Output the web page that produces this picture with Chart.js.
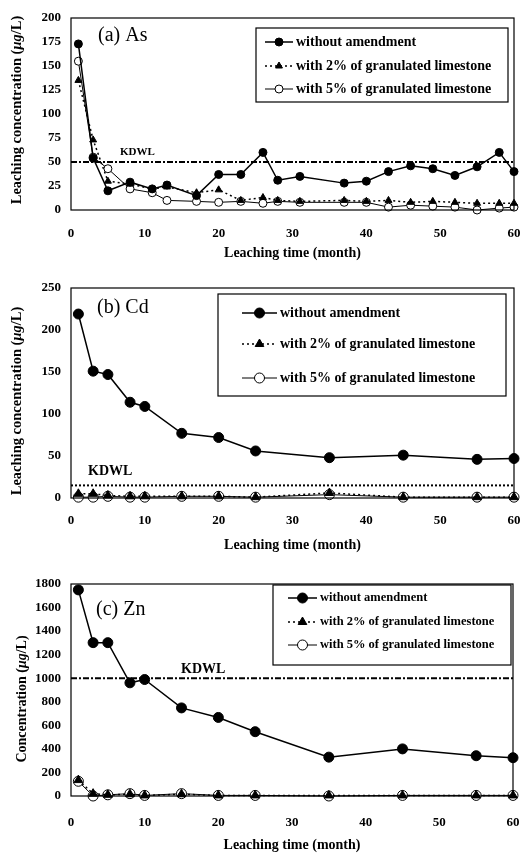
<!DOCTYPE html>
<html>
<head>
<meta charset="utf-8">
<script src="https://cdn.jsdelivr.net/npm/chart.js@4/dist/chart.umd.min.js"></script>
<style>
  html, body { margin: 0; padding: 0; background: #fff; }
  #wrap { position: relative; width: 521px; height: 854px; overflow: hidden; background: #fff; }
  canvas { position: absolute; left: 0; }
</style>
</head>
<body>
<div id="wrap">
  <canvas id="cA" width="521" height="270" style="top:0px"></canvas>
  <canvas id="cB" width="521" height="290" style="top:270px"></canvas>
  <canvas id="cC" width="521" height="294" style="top:560px"></canvas>
</div>
<script>
// ---------- DATA ----------
const seriesLabels = ['without amendment', 'with 2% of granulated limestone', 'with 5% of granulated limestone'];
const xTitle = 'Leaching time (month)';

// (a) As
const monthsAs = [1, 3, 5, 8, 11, 13, 17, 20, 23, 26, 28, 31, 37, 40, 43, 46, 49, 52, 55, 58, 60];
const asWithout = [173, 54, 20, 29, 22, 26, 15, 37, 37, 60, 31, 35, 28, 30, 40, 46, 43, 36, 45, 60, 40];
const asLime2 = [135, 73, 30, 27, 22, 24, 18, 21, 10, 13, 10, 9, 10, 9, 10, 8, 9, 8, 7, 7, 7];
const asLime5 = [155, 55, 43, 22, 18, 10, 9, 8, 9, 7, 9, 8, 8, 8, 3, 5, 4, 3, 0, 2, 3];
const asLimit = 50;

// (b) Cd and (c) Zn
const monthsCdZn = [1, 3, 5, 8, 10, 15, 20, 25, 35, 45, 55, 60];
const cdWithout = [219, 151, 147, 114, 109, 77, 72, 56, 48, 51, 46, 47];
const cdLime2 = [5, 5, 3, 2, 2, 2, 2, 1, 6, 1, 1, 1];
const cdLime5 = [1, 1, 2, 1, 1, 2, 2, 1, 4, 1, 1, 1];
const cdLimit = 15;

const znWithout = [1750, 1302, 1302, 961, 989, 748, 667, 546, 330, 400, 342, 325];
const znLime2 = [135, 20, 10, 15, 5, 15, 5, 5, 5, 5, 5, 5];
const znLime5 = [125, 0, 10, 20, 5, 20, 5, 5, 0, 5, 5, 5];
const znLimit = 1000;

// ---------- HELPERS ----------
const SERIF = '"Liberation Serif", "Times New Roman", Times, serif';
const pts = (xs, ys) => xs.map((x, i) => ({ x: x, y: ys[i] }));

function drawMarker(ctx, style, r, x, y) {
  if (Chart.helpers && Chart.helpers.drawPoint) {
    Chart.helpers.drawPoint(ctx, { pointStyle: style, radius: r, rotation: 0, borderWidth: 1 }, x, y);
    return;
  }
  ctx.beginPath();
  ctx.arc(x, y, r, 0, Math.PI * 2);
  ctx.fill(); ctx.stroke();
}

const decoPlugin = {
  id: 'deco',
  afterDraw(chart, args, o) {
    const ctx = chart.ctx;
    const ca = chart.chartArea;
    const ys = chart.scales.y;
    ctx.save();
    // frame
    ctx.strokeStyle = '#000';
    ctx.lineWidth = 1.2;
    ctx.setLineDash([]);
    ctx.strokeRect(ca.left, ca.top, ca.right - ca.left, ca.bottom - ca.top);

    // panel label
    ctx.fillStyle = '#000';
    ctx.font = '20px ' + SERIF;
    ctx.textBaseline = 'middle';
    ctx.textAlign = 'left';
    ctx.fillText(o.panel, o.panelX, o.panelY);

    // KDWL label
    ctx.font = 'bold ' + o.kdwlSize + 'px ' + SERIF;
    ctx.fillText('KDWL', o.kdwlX, ys.getPixelForValue(o.limit) - o.kdwlDy);

    // y title with italic µg
    const parts = [['bold', o.yTitle[0]], ['bold italic', o.yTitle[1]], ['bold', o.yTitle[2]]];
    let total = 0;
    parts.forEach(p => { ctx.font = p[0] + ' ' + o.yTitleSize + 'px ' + SERIF; total += ctx.measureText(p[1]).width; });
    ctx.translate(o.yTitleX, (ca.top + ca.bottom) / 2 + (o.yTitleDy || 0));
    ctx.rotate(-Math.PI / 2);
    let cx = -total / 2;
    parts.forEach(p => {
      ctx.font = p[0] + ' ' + o.yTitleSize + 'px ' + SERIF;
      ctx.fillText(p[1], cx, 0);
      cx += ctx.measureText(p[1]).width;
    });
    ctx.restore();

    // legend
    const L = o.legend;
    ctx.save();
    ctx.fillStyle = '#fff';
    ctx.fillRect(L.x, L.y, L.w, L.h);
    ctx.strokeStyle = '#000';
    ctx.lineWidth = 1.2;
    ctx.strokeRect(L.x, L.y, L.w, L.h);
    chart.data.datasets.forEach((ds, i) => {
      if (ds.isLimit) return;
      const y = L.rows[i];
      ctx.strokeStyle = '#000';
      ctx.lineWidth = ds.borderWidth;
      ctx.setLineDash(ds.borderDash || []);
      ctx.beginPath(); ctx.moveTo(L.x0, y); ctx.lineTo(L.x1, y); ctx.stroke();
      ctx.setLineDash([]);
      ctx.fillStyle = ds.pointBackgroundColor;
      ctx.lineWidth = 1;
      drawMarker(ctx, ds.pointStyle, ds.pointRadius, (L.x0 + L.x1) / 2, y);
      ctx.fillStyle = '#000';
      ctx.font = 'bold ' + L.size + 'px ' + SERIF;
      ctx.textAlign = 'left';
      ctx.textBaseline = 'middle';
      ctx.fillText(ds.label, L.tx, y);
    });
    ctx.restore();
  }
};

function makeChart(id, cfg) {
  const r = cfg.r;
  const datasets = [
    { label: seriesLabels[0], data: pts(cfg.months, cfg.s0), borderColor: '#000', borderWidth: 1.5,
      pointStyle: 'circle', pointRadius: r, pointBackgroundColor: '#000', pointBorderColor: '#000', pointBorderWidth: 1, clip: false },
    { label: seriesLabels[1], data: pts(cfg.months, cfg.s1), borderColor: '#000', borderWidth: 1.5, borderDash: [2, 3],
      pointStyle: 'triangle', pointRadius: r, pointBackgroundColor: '#000', pointBorderColor: '#000', pointBorderWidth: 1, clip: false },
    { label: seriesLabels[2], data: pts(cfg.months, cfg.s2), borderColor: '#000', borderWidth: 1,
      pointStyle: 'circle', pointRadius: r, pointBackgroundColor: '#fff', pointBorderColor: '#000', pointBorderWidth: 1, clip: false },
    { label: 'KDWL', isLimit: true, data: [{ x: 0, y: cfg.limit }, { x: 60, y: cfg.limit }], borderColor: '#000',
      borderWidth: 2, borderDash: cfg.limitDash, pointRadius: 0 }
  ];
  return new Chart(document.getElementById(id), {
    type: 'line',
    data: { datasets },
    plugins: [decoPlugin],
    options: {
      responsive: false,
      animation: false,
      devicePixelRatio: 1,
      events: [],
      layout: { padding: { top: cfg.top, right: cfg.right, left: 0, bottom: 0 } },
      plugins: {
        legend: { display: false },
        tooltip: { enabled: false },
        deco: cfg.deco
      },
      scales: {
        x: {
          type: 'linear', min: 0, max: 60,
          grid: { display: false, drawTicks: false },
          border: { display: false },
          ticks: { stepSize: 10, color: '#000', padding: cfg.xPad, maxRotation: 0,
                   callback: v => String(v),
                   font: { family: SERIF, size: 13, weight: 'bold' } },
          title: { display: true, text: xTitle, color: '#000', padding: { top: 0, bottom: cfg.xTitlePad },
                   font: { family: SERIF, size: 14, weight: 'bold' } },
          afterFit: s => { s.height = cfg.xAxisH; s.paddingLeft = 0; s.paddingRight = 0; }
        },
        y: {
          min: 0, max: cfg.ymax,
          grid: { display: false, drawTicks: false },
          border: { display: false },
          ticks: { stepSize: cfg.ystep, color: '#000', padding: 10,
                   callback: v => String(v),
                   font: { family: SERIF, size: 13, weight: 'bold' } },
          afterFit: s => { s.width = 71; s.paddingTop = 0; s.paddingBottom = 0; }
        }
      }
    }
  });
}

makeChart('cA', {
  months: monthsAs, s0: asWithout, s1: asLime2, s2: asLime5, limit: asLimit, limitDash: [6, 2, 2, 2],
  r: 4, top: 18, right: 7, xAxisH: 60, xPad: 16, xTitlePad: 8, ymax: 200, ystep: 25,
  deco: {
    panel: '(a) As', panelX: 98, panelY: 36, limit: asLimit, kdwlX: 120, kdwlDy: 10, kdwlSize: 11,
    yTitle: ['Leaching concentration (', 'μg', '/L)'], yTitleSize: 14.5, yTitleX: 17, yTitleDy: -4,
    legend: { x: 256, y: 28, w: 252, h: 74, rows: [42, 66, 89], x0: 265, x1: 293, tx: 296, size: 14 }
  }
});

makeChart('cB', {
  months: monthsCdZn, s0: cdWithout, s1: cdLime2, s2: cdLime5, limit: cdLimit, limitDash: [2, 2],
  r: 5, top: 18, right: 7, xAxisH: 62, xPad: 15, xTitlePad: 6, ymax: 250, ystep: 50,
  deco: {
    panel: '(b) Cd', panelX: 97, panelY: 38, limit: cdLimit, kdwlX: 88, kdwlDy: 14, kdwlSize: 14,
    yTitle: ['Leaching concentration (', 'μg', '/L)'], yTitleSize: 14.5, yTitleX: 17, yTitleDy: 8,
    legend: { x: 218, y: 24, w: 288, h: 102, rows: [43, 74, 108], x0: 242, x1: 277, tx: 280, size: 14 }
  }
});

makeChart('cC', {
  months: monthsCdZn, s0: znWithout, s1: znLime2, s2: znLime5, limit: znLimit, limitDash: [6, 2, 2, 2],
  r: 5, top: 24, right: 8, xAxisH: 58, xPad: 19, xTitlePad: 0, ymax: 1800, ystep: 200,
  deco: {
    panel: '(c) Zn', panelX: 96, panelY: 50, limit: znLimit, kdwlX: 181, kdwlDy: 9, kdwlSize: 14,
    yTitle: ['Concentration (', 'μg', '/L)'], yTitleSize: 14, yTitleX: 22, yTitleDy: 9,
    legend: { x: 273, y: 25, w: 238, h: 80, rows: [38, 62, 85], x0: 288, x1: 317, tx: 320, size: 12.5 }
  }
});
</script>
</body>
</html>
